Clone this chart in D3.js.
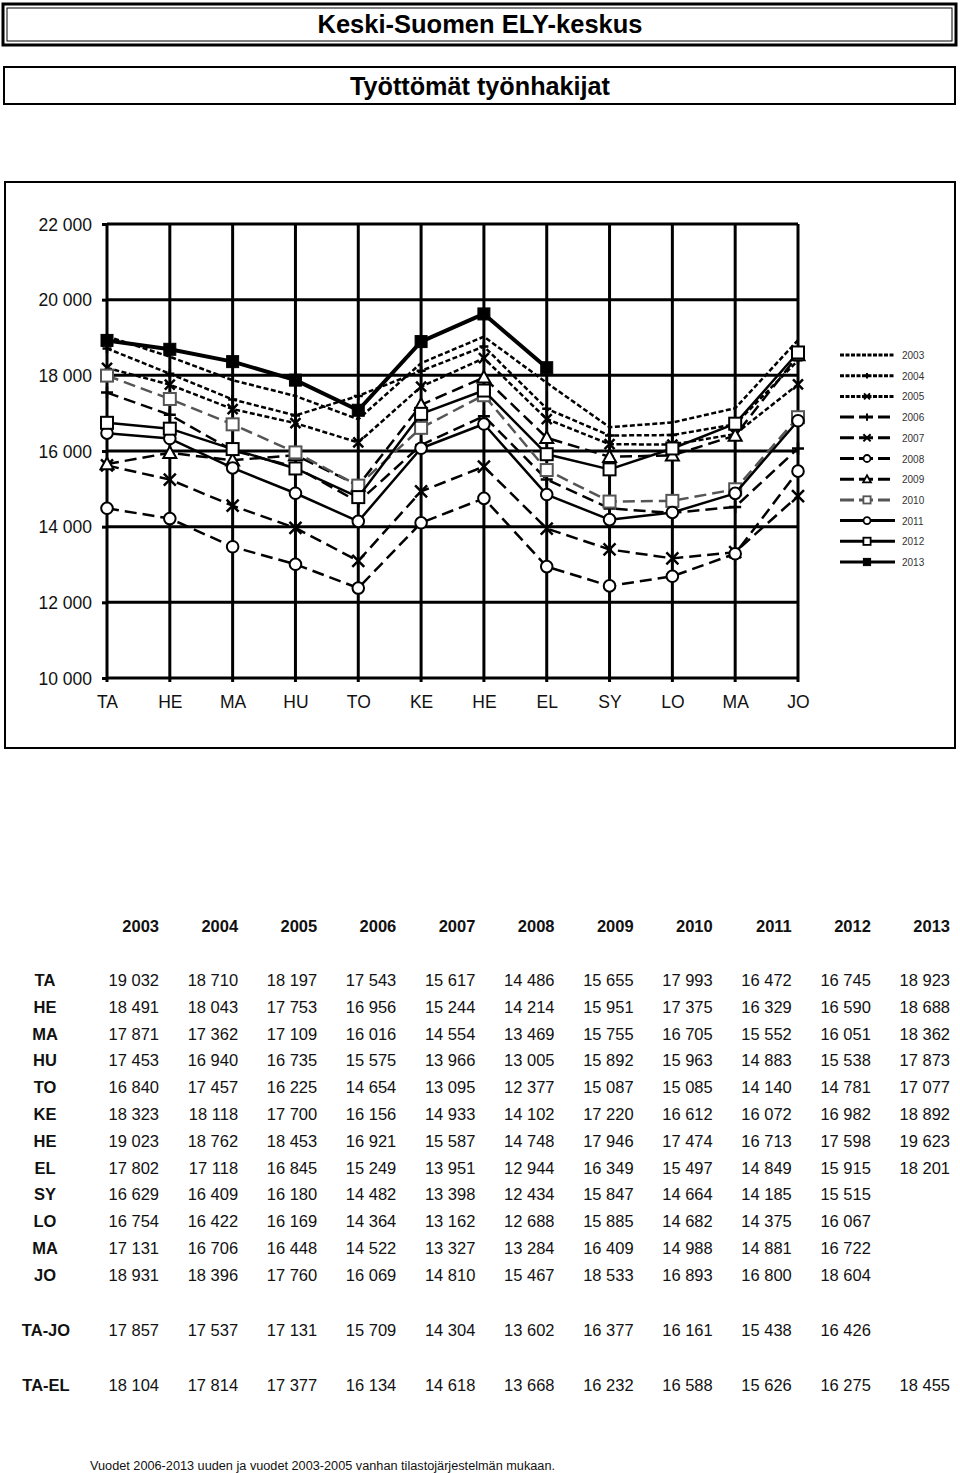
<!DOCTYPE html>
<html><head><meta charset="utf-8">
<script src="https://cdn.jsdelivr.net/npm/d3@7"></script>
<style>
body{margin:0;background:#fff;}
text{font-family:"Liberation Sans",Arial,sans-serif;}
</style></head>
<body><svg id="c" width="960" height="1473"></svg>
<script>
const months = ["TA","HE","MA","HU","TO","KE","HE","EL","SY","LO","MA","JO"];
const years = ["2003","2004","2005","2006","2007","2008","2009","2010","2011","2012","2013"];
const yTicks = [10000,12000,14000,16000,18000,20000,22000];

const y2003 = [19032,18491,17871,17453,16840,18323,19023,17802,16629,16754,17131,18931];
const y2004 = [18710,18043,17362,16940,17457,18118,18762,17118,16409,16422,16706,18396];
const y2005 = [18197,17753,17109,16735,16225,17700,18453,16845,16180,16169,16448,17760];
const y2006 = [17543,16956,16016,15575,14654,16156,16921,15249,14482,14364,14522,16069];
const y2007 = [15617,15244,14554,13966,13095,14933,15587,13951,13398,13162,13327,14810];
const y2008 = [14486,14214,13469,13005,12377,14102,14748,12944,12434,12688,13284,15467];
const y2009 = [15655,15951,15755,15892,15087,17220,17946,16349,15847,15885,16409,18533];
const y2010 = [17993,17375,16705,15963,15085,16612,17474,15497,14664,14682,14988,16893];
const y2011 = [16472,16329,15552,14883,14140,16072,16713,14849,14185,14375,14881,16800];
const y2012 = [16745,16590,16051,15538,14781,16982,17598,15915,15515,16067,16722,18604];
const y2013 = [18923,18688,18362,17873,17077,18892,19623,18201];

const avgTaJo = [17857,17537,17131,15709,14304,13602,16377,16161,15438,16426,null];
const avgTaEl = [18104,17814,17377,16134,14618,13668,16232,16588,15626,16275,18455];

const seriesValues = [y2003,y2004,y2005,y2006,y2007,y2008,y2009,y2010,y2011,y2012,y2013];

const styles = [
  {dash:"5,2.5", marker:"none", color:"#000", w:2.5},
  {dash:"5,2.5", marker:"plusS", color:"#000", w:2.5},
  {dash:"5,2.5", marker:"xS", color:"#000", w:2.5},
  {dash:"12,6", marker:"plus", color:"#000", w:2.5},
  {dash:"12,6", marker:"x", color:"#000", w:2.5},
  {dash:"12,6", marker:"circle", color:"#000", w:2.5},
  {dash:"12,6", marker:"triangle", color:"#000", w:2.5},
  {dash:"12,6", marker:"square", color:"#555", w:2.5},
  {dash:null, marker:"circle", color:"#000", w:2.5},
  {dash:null, marker:"square", color:"#000", w:2.5},
  {dash:null, marker:"fsquare", color:"#000", w:4}
];

const svg = d3.select("#c");
const fmt = d3.formatLocale({decimal:",",thousands:" ",grouping:[3],currency:["",""]}).format(",");

svg.append("rect").attr("x",3).attr("y",4).attr("width",953).attr("height",41).attr("fill","none").attr("stroke","#000").attr("stroke-width",3);
svg.append("rect").attr("x",7).attr("y",8).attr("width",945).attr("height",33).attr("fill","none").attr("stroke","#000").attr("stroke-width",1);
svg.append("text").attr("x",480).attr("y",33).attr("text-anchor","middle").attr("font-size",25).attr("font-weight","bold")
  .attr("textLength",325).attr("lengthAdjust","spacingAndGlyphs").text("Keski-Suomen ELY-keskus");
svg.append("rect").attr("x",4).attr("y",67).attr("width",951).attr("height",37).attr("fill","none").attr("stroke","#000").attr("stroke-width",2);
svg.append("text").attr("x",480).attr("y",95).attr("text-anchor","middle").attr("font-size",25).attr("font-weight","bold")
  .attr("textLength",260).attr("lengthAdjust","spacingAndGlyphs").text("Työttömät työnhakijat");

svg.append("rect").attr("x",5).attr("y",182).attr("width",950).attr("height",566).attr("fill","none").attr("stroke","#000").attr("stroke-width",2);

const x = d3.scalePoint().domain(d3.range(12)).range([107,798]);
const y = d3.scaleLinear().domain([10000,22000]).range([678,224]);

const grid = svg.append("g");
grid.selectAll(".h").data(yTicks).join("line")
  .attr("x1",107).attr("x2",798).attr("y1",d=>y(d)).attr("y2",d=>y(d)).attr("stroke","#000").attr("stroke-width",3);
grid.selectAll(".v").data(d3.range(12)).join("line")
  .attr("x1",d=>x(d)).attr("x2",d=>x(d)).attr("y1",y(22000)).attr("y2",y(10000)+4).attr("stroke","#000").attr("stroke-width",3);

const yAxis = svg.append("g").attr("transform","translate(107,0)")
  .call(d3.axisLeft(y).tickValues(yTicks).tickSize(5).tickPadding(10).tickFormat(d=>fmt(d)));
yAxis.select(".domain").remove();
yAxis.selectAll(".tick line").attr("stroke-width",3);
yAxis.selectAll("text").attr("font-size",17.5).attr("fill","#111").attr("dy","0.35em");

const xAxis = svg.append("g").attr("transform","translate(0,678)")
  .call(d3.axisBottom(x).tickSize(0).tickPadding(18).tickFormat(i=>months[i]));
xAxis.select(".domain").remove();
xAxis.selectAll("text").attr("font-size",17.5).attr("fill","#111");

function marker(g, type, cx, cy, k, color){
  if(type==="none") return;
  const sw = 2.5*Math.max(k,0.8);
  if(type==="plus"||type==="plusS"){
    const h = (type==="plus"?6:4.5)*k;
    g.append("path").attr("d",`M${cx-h},${cy}H${cx+h}M${cx},${cy-h}V${cy+h}`).attr("stroke",color).attr("stroke-width",sw).attr("fill","none");
  } else if(type==="x"||type==="xS"){
    const h = (type==="x"?6:5)*k;
    g.append("path").attr("d",`M${cx-h},${cy-h}L${cx+h},${cy+h}M${cx-h},${cy+h}L${cx+h},${cy-h}`).attr("stroke",color).attr("stroke-width",sw).attr("fill","none");
  } else if(type==="circle"){
    g.append("circle").attr("cx",cx).attr("cy",cy).attr("r",5.8*k).attr("fill","#fff").attr("stroke",color).attr("stroke-width",2*Math.max(k,0.9));
  } else if(type==="triangle"){
    const h=6.5*k;
    g.append("path").attr("d",`M${cx},${cy-h}L${cx+h},${cy+h*0.8}L${cx-h},${cy+h*0.8}Z`).attr("fill","#fff").attr("stroke",color).attr("stroke-width",2*Math.max(k,0.9));
  } else if(type==="square"){
    const h=6*k;
    g.append("rect").attr("x",cx-h).attr("y",cy-h).attr("width",2*h).attr("height",2*h).attr("fill","#fff").attr("stroke",color).attr("stroke-width",2*Math.max(k,0.9));
  } else if(type==="fsquare"){
    const h=6*k;
    g.append("rect").attr("x",cx-h).attr("y",cy-h).attr("width",2*h).attr("height",2*h).attr("fill",color).attr("stroke",color).attr("stroke-width",1);
  }
}

const line = d3.line().x((d,i)=>x(i)).y(d=>y(d));
const plot = svg.append("g");
seriesValues.forEach((vals,si)=>{
  const st = styles[si];
  const g = plot.append("g");
  g.append("path").attr("d",line(vals)).attr("fill","none").attr("stroke",st.color).attr("stroke-width",st.w)
    .attr("stroke-dasharray",st.dash).attr("stroke-linejoin","round");
  vals.forEach((v,i)=>marker(g, st.marker, x(i), y(v), 1, st.color));
});

const leg = svg.append("g");
years.forEach((yr,i)=>{
  const st = styles[i];
  const ly = 355 + i*20.7;
  const x2 = st.dash==="12,6" ? 890 : 895;
  leg.append("line").attr("x1",840).attr("x2",x2).attr("y1",ly).attr("y2",ly).attr("stroke",st.color).attr("stroke-width",3)
    .attr("stroke-dasharray", st.dash==="12,6" ? "14,5" : (st.dash ? "4,1.5" : null));
  marker(leg, st.marker, 867, ly, 0.6, st.color);
  leg.append("text").attr("x",902).attr("y",ly+4).attr("font-size",10).attr("fill","#333").text(yr);
});

const colRight = d3.range(11).map(i=>159 + i*79.1);
const tbl = svg.append("g");
years.forEach((yr,j)=>{
  tbl.append("text").attr("x",colRight[j]).attr("y",932).attr("text-anchor","end").attr("font-size",16.5).attr("font-weight","bold").attr("fill","#111").text(yr);
});
months.forEach((m,i)=>{
  const ry = 986 + i*26.8;
  tbl.append("text").attr("x",45).attr("y",ry).attr("text-anchor","middle").attr("font-size",16.5).attr("font-weight","bold").attr("fill","#111").text(m);
  seriesValues.forEach((vals,j)=>{
    if(vals[i]!=null) tbl.append("text").attr("x",colRight[j]).attr("y",ry).attr("text-anchor","end").attr("font-size",16.5).attr("fill","#111").text(fmt(vals[i]));
  });
});
[["TA-JO",avgTaJo,1336],["TA-EL",avgTaEl,1391]].forEach(([lab,vals,ry])=>{
  tbl.append("text").attr("x",46).attr("y",ry).attr("text-anchor","middle").attr("font-size",16.5).attr("font-weight","bold").attr("fill","#111").text(lab);
  vals.forEach((v,j)=>{ if(v!=null) tbl.append("text").attr("x",colRight[j]).attr("y",ry).attr("text-anchor","end").attr("font-size",16.5).attr("fill","#111").text(fmt(v)); });
});

svg.append("text").attr("x",90).attr("y",1470).attr("font-size",12).attr("fill","#111")
  .attr("textLength",465).attr("lengthAdjust","spacingAndGlyphs")
  .text("Vuodet 2006-2013 uuden ja vuodet 2003-2005 vanhan tilastojärjestelmän mukaan.");
</script></body></html>
